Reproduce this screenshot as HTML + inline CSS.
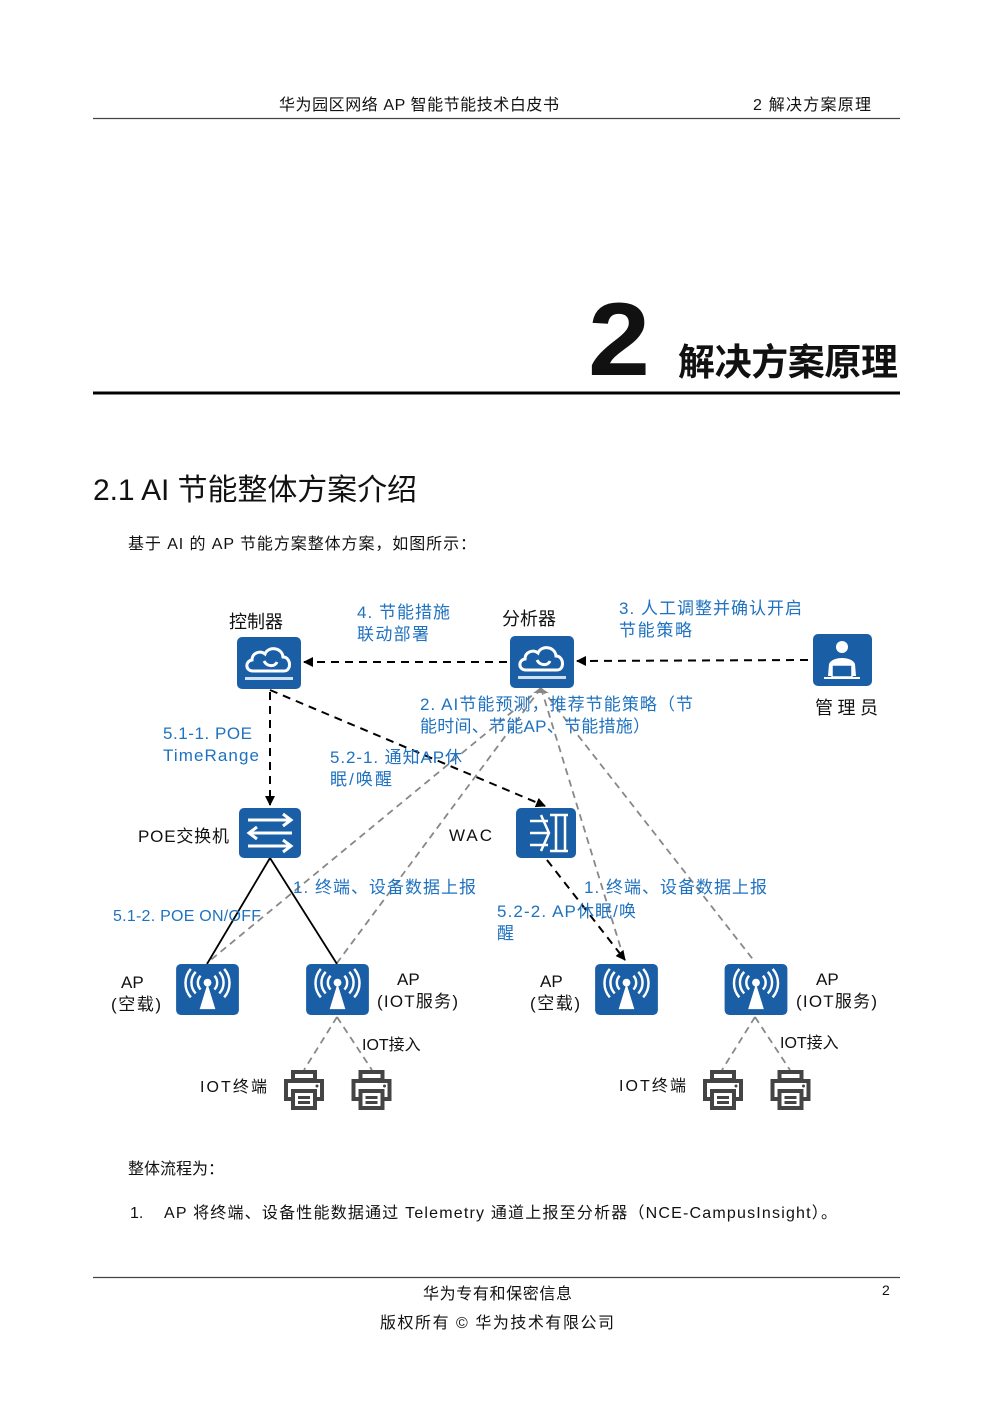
<!DOCTYPE html>
<html><head><meta charset="utf-8"><style>
html,body{margin:0;padding:0;background:#fff;}
svg{display:block;}
text{font-family:"Liberation Sans","Noto Sans CJK SC",sans-serif;}
.b{fill:#1f72c0;}
.k{fill:#111;}
</style></head><body>
<svg width="992" height="1403" viewBox="0 0 992 1403" xmlns="http://www.w3.org/2000/svg">
<defs>
<marker id="ah" markerWidth="10" markerHeight="10" refX="9" refY="5" orient="auto" markerUnits="userSpaceOnUse"><path d="M0,0 L10,5 L0,10 z" fill="#000"/></marker>
<symbol id="cloud" viewBox="0 0 64 52">
<rect x="0" y="0" width="64" height="52" rx="5" fill="#1a5ea6"/>
<path d="M16,34 C8,34 8,24 15,23 C15,16 23,13 28,17 C31,9 45,10 46,20 C54,20 55,34 47,34 Z" fill="none" stroke="#fff" stroke-width="3"/>
<path d="M27,24 C30,30 38,30 40,25" fill="none" stroke="#fff" stroke-width="3"/>
<rect x="8" y="40" width="48" height="3" fill="#cfe0f3"/>
</symbol>
<symbol id="ap" viewBox="0 0 64 52">
<rect x="0" y="0" width="64" height="52" rx="5" fill="#1a5ea6"/>
<path d="M32,20 L24,46 L40,46 Z" fill="#fff"/>
<circle cx="32" cy="19" r="4" fill="#fff"/>
<g fill="none" stroke="#fff" stroke-width="2.5">
<path d="M25,12 A10,10 0 0 0 25,26"/><path d="M39,12 A10,10 0 0 1 39,26"/>
<path d="M20,8 A16,16 0 0 0 20,30"/><path d="M44,8 A16,16 0 0 1 44,30"/>
<path d="M15,5 A22,22 0 0 0 15,34"/><path d="M49,5 A22,22 0 0 1 49,34"/>
</g>
</symbol>
<symbol id="pr" viewBox="0 0 42 42">
<g fill="none" stroke="#444" stroke-width="4">
<rect x="10" y="3" width="22" height="8"/>
<path d="M10,30 L3,30 L3,12 L39,12 L39,30 L32,30"/>
<rect x="10" y="22" width="22" height="17"/>
</g>
<rect x="15" y="27" width="12" height="3" fill="#444"/><rect x="15" y="32" width="12" height="3" fill="#444"/>
<circle cx="34" cy="17" r="1.5" fill="#444"/>
</symbol>
</defs>

<text x="279" y="110" font-size="16" class="k" textLength="280">华为园区网络 AP 智能节能技术白皮书</text>
<text x="753" y="110" font-size="16" class="k" textLength="118">2 解决方案原理</text>
<line x1="93" y1="118.5" x2="900" y2="118.5" stroke="#444" stroke-width="1.2"/>

<text x="588" y="375" font-size="104" font-weight="bold" class="k" textLength="62" lengthAdjust="spacingAndGlyphs">2</text>
<text x="678" y="375" font-size="37" font-weight="bold" class="k" textLength="220">解决方案原理</text>
<line x1="93" y1="393" x2="900" y2="393" stroke="#000" stroke-width="3"/>

<text x="93" y="500" font-size="30" class="k" textLength="324">2.1 AI 节能整体方案介绍</text>
<text x="128" y="549" font-size="16" class="k" textLength="348">基于 AI 的 AP 节能方案整体方案，如图所示：</text>

<g fill="none" stroke="#888" stroke-width="1.8" stroke-dasharray="7,5">
<line x1="541" y1="688" x2="207" y2="963"/>
<line x1="541" y1="688" x2="337" y2="963"/>
<line x1="541" y1="688" x2="625" y2="962"/>
<line x1="541" y1="688" x2="755" y2="962"/>
<line x1="337" y1="1017" x2="304" y2="1070"/>
<line x1="337" y1="1017" x2="372" y2="1070"/>
<line x1="755" y1="1017" x2="722" y2="1070"/>
<line x1="755" y1="1017" x2="790" y2="1070"/>
</g>
<g fill="none" stroke="#000" stroke-width="2" stroke-dasharray="8,6">
<line x1="507" y1="662" x2="304" y2="662" marker-end="url(#ah)"/>
<line x1="808" y1="660" x2="577" y2="661" marker-end="url(#ah)"/>
<line x1="270" y1="692" x2="270" y2="805" marker-end="url(#ah)"/>
<line x1="270" y1="690" x2="545" y2="806" marker-end="url(#ah)"/>
<line x1="547" y1="860" x2="625" y2="960" marker-end="url(#ah)"/>
</g>
<polyline points="207,964 270,858 337,964" fill="none" stroke="#000" stroke-width="1.8"/>
<path d="M533,693 L541,688 L549,693" fill="#888"/>

<use href="#cloud" x="237" y="637" width="64" height="52"/>
<use href="#cloud" x="510" y="636" width="64" height="52"/>
<rect x="813" y="634" width="59" height="52" rx="5" fill="#1a5ea6"/>
<circle cx="842" cy="647" r="6" fill="#fff"/>
<path d="M828,676 L829,664 C832,656 852,656 855,664 L856,676 Z" fill="#fff"/>
<rect x="832" y="665" width="20" height="12" fill="#1a5ea6" stroke="#fff" stroke-width="1.5"/>
<rect x="824" y="677" width="36" height="2" fill="#fff"/>

<rect x="239" y="808" width="62" height="50" rx="5" fill="#1a5ea6"/>
<g stroke="#fff" stroke-width="3" fill="none">
<path d="M248,820 L290,820 M283,814 L291,820 L283,826"/>
<path d="M292,833 L250,833 M257,827 L249,833 L257,839"/>
<path d="M248,846 L290,846 M283,840 L291,846 L283,852"/>
</g>
<rect x="516" y="808" width="60" height="50" rx="5" fill="#1a5ea6"/>
<g stroke="#fff" stroke-width="2.5" fill="none">
<path d="M556,815 L556,851 M565,815 L565,851 M550,815 L568,815 M550,851 L568,851"/>
<path d="M530,821 L548,821 M530,833 L548,833 M530,845 L548,845 M541,815 L549,833 L541,851"/>
</g>

<use href="#ap" x="176" y="964" width="63" height="51"/>
<use href="#ap" x="306" y="964" width="63" height="51"/>
<use href="#ap" x="595" y="964" width="63" height="51"/>
<use href="#ap" x="724" y="964" width="64" height="51"/>
<use href="#pr" x="283" y="1069" width="42" height="42"/>
<use href="#pr" x="350" y="1069" width="43" height="42"/>
<use href="#pr" x="702" y="1069" width="42" height="42"/>
<use href="#pr" x="769" y="1069" width="43" height="42"/>

<g font-size="18" class="k">
<text x="229" y="628">控制器</text>
<text x="502" y="625">分析器</text>
<text x="815" y="714" textLength="63">管理员</text>
</g>
<g font-size="17" class="k">
<text x="138" y="842" textLength="91">POE交换机</text>
<text x="449" y="841" textLength="43">WAC</text>
<text x="121" y="988">AP</text><text x="111" y="1010" textLength="50">(空载)</text>
<text x="397" y="985">AP</text><text x="377" y="1007" textLength="81">(IOT服务)</text>
<text x="540" y="987">AP</text><text x="530" y="1009" textLength="50">(空载)</text>
<text x="816" y="985">AP</text><text x="796" y="1007" textLength="81">(IOT服务)</text>
<text x="362" y="1050" font-size="16">IOT接入</text>
<text x="780" y="1048" font-size="16">IOT接入</text>
<text x="200" y="1092" font-size="16" textLength="67">IOT终端</text>
<text x="619" y="1091" font-size="16" textLength="67">IOT终端</text>
</g>
<g font-size="17" class="b">
<text x="357" y="618" textLength="93">4. 节能措施</text><text x="357" y="640" textLength="72">联动部署</text>
<text x="619" y="614" textLength="183">3. 人工调整并确认开启</text><text x="619" y="636" textLength="73">节能策略</text>
<text x="420" y="710" textLength="273">2. AI节能预测，推荐节能策略（节</text><text x="420" y="732" textLength="230">能时间、节能AP、节能措施）</text>
<text x="163" y="739" textLength="89">5.1-1. POE</text><text x="163" y="761" textLength="96">TimeRange</text>
<text x="330" y="763" textLength="132">5.2-1. 通知AP休</text><text x="330" y="785" textLength="62">眠/唤醒</text>
<text x="293" y="893" textLength="183">1. 终端、设备数据上报</text>
<text x="584" y="893" textLength="183">1. 终端、设备数据上报</text>
<text x="113" y="921" font-size="16" textLength="148">5.1-2. POE ON/OFF</text>
<text x="497" y="917" textLength="139">5.2-2. AP休眠/唤</text><text x="497" y="939">醒</text>
</g>

<text x="128" y="1174" font-size="16" class="k">整体流程为：</text>
<text x="130" y="1218" font-size="16" class="k">1.</text>
<text x="164" y="1218" font-size="16" class="k" textLength="673">AP 将终端、设备性能数据通过 Telemetry 通道上报至分析器（NCE-CampusInsight）。</text>

<line x1="93" y1="1277.5" x2="900" y2="1277.5" stroke="#444" stroke-width="1.2"/>
<text x="423" y="1299" font-size="16" class="k" textLength="149">华为专有和保密信息</text>
<text x="380" y="1328" font-size="16" class="k" textLength="234">版权所有 © 华为技术有限公司</text>
<text x="882" y="1295" font-size="14" font-family="Liberation Serif, serif" class="k">2</text>
</svg>
</body></html>
